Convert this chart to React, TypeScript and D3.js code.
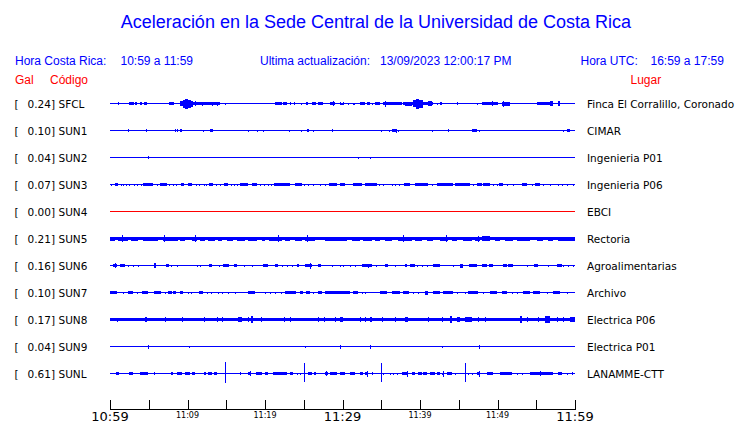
import React from "react";
import * as d3 from "d3";

// ---- data ----
const title = "Aceleración en la Sede Central de la Universidad de Costa Rica";
const codes = ["SFCL", "SUN1", "SUN2", "SUN3", "SUN4", "SUN5", "SUN6", "SUN7", "SUN8", "SUN9", "SUNL"];
const peakGal = [0.24, 0.10, 0.04, 0.07, 0.00, 0.21, 0.16, 0.10, 0.17, 0.04, 0.61];
const places = [
  "Finca El Corralillo, Coronado", "CIMAR", "Ingenieria P01", "Ingenieria P06", "EBCI",
  "Rectoria", "Agroalimentarias", "Archivo", "Electrica P06", "Electrica P01", "LANAMME-CTT",
];
// continuous noise floor amplitude per station (relative units)
const noiseFloor = [0.5, 0.5, 0.5, 0.5, 0.5, 1.2, 0.5, 0.5, 1.7, 0.5, 0.5];
const inactive = ["SUN4"];
// tick minutes (since 10:59) and labels
const tickMinutes = [0, 5, 10, 15, 20, 25, 30, 35, 40, 45, 50, 55, 60];
const labelMinutes = [0, 10, 20, 30, 40, 50, 60];
const labelTexts = ["10:59", "11:09", "11:19", "11:29", "11:39", "11:49", "11:59"];
const majorLabels = ["10:59", "11:29", "11:59"];

// events: [startMinute, endMinute, amplitudeUp, amplitudeDown?]
type Ev = [number, number, number, number?];
const evSFCL: Ev[] = [
  [0.98,0.98,1.5],[2.45,3.05,1.5],[3.22,3.44,1.2],[3.82,4.08,1.2],[4.43,4.73,1.5],[7.65,8.30,1.5],
  [9.03,9.4,2.5],[9.4,9.7,4],[9.7,10.1,5],[10.1,10.5,4],[10.5,10.75,3],
  [10.75,14.19,1.5],[10.96,10.96,2.5],[11.82,11.82,2],[13.11,13.11,2],[13.76,13.76,2],
  [14.83,14.83,1],[18.96,18.96,0.8],[19.39,19.39,0.8],[19.82,19.82,0.8],[20.25,20.25,0.8],
  [21.29,22.15,1.5],[22.36,22.79,1.5],[23.22,23.22,1.2],[23.78,23.78,1.2],[24.64,24.64,1],[25.29,25.59,1.5],
  [26.10,26.53,1.5],[26.88,27.52,1.3],[28.43,29.03,1.5],[28.81,28.81,2.5],[29.63,29.63,1.2],[30.06,30.06,1.2],
  [29.68,30.11,1],[30.76,30.76,1],[31.40,31.62,1],[32.26,32.91,1.3],[33.12,33.55,1.5],[33.77,33.98,1],[34.20,34.84,1.3],
  [35.27,37.64,1.5],[35.49,35.49,3],
  [37.85,41.72,1.7],[38.07,38.93,2],[39.14,39.5,3.5],[39.5,39.9,5],[39.9,40.43,4],[41.08,41.51,2.5],
  [42.15,42.15,1],[42.58,42.80,1.2],[44.73,44.95,1.5],[47.31,47.31,1],[47.96,50.11,1.5],[49.25,49.25,2.5],
  [50.54,51.62,2],[50.75,50.75,3],[55.06,57.21,1.5],[56.78,57.21,2.5],[57.85,58.07,2.5],
];
const evSUN1: Ev[] = [
  [2.36,2.36,1.2],[4.64,4.64,1.2],[8.38,8.38,1.2],[8.60,8.60,1.2],[9.07,9.24,1.3],[12.04,12.04,1],[12.94,13.24,1.5],
  [17.84,17.84,1],[18.92,18.92,1],[19.74,19.74,1],[23.14,23.14,0,1],[24.64,24.64,1],[25.37,25.67,1.2],[26.23,26.23,1],
  [28.60,28.60,1.2],[34.97,34.97,1],[36.05,36.05,1],[36.39,36.99,1.5],[36.9,36.9,2],[37.21,37.21,1],[41.55,41.55,1],
  [43.66,43.66,1.5],[46.67,47.31,1.5],[47.57,47.57,1],[58.50,58.50,1],[58.93,59.36,1.5],
];
const evSUN2: Ev[] = [[4.94,4.94,1.5],[32.05,32.05,0,1],[33.59,33.59,1]];
const evSUN3: Ev[] = [
  [0.12,0.12,1],[0.64,1.07,1.2],[1.37,1.37,1],[1.63,1.63,1],[2.02,2.02,1],[2.45,2.45,1],[3.13,3.13,1],[3.44,3.44,1],
  [3.95,3.95,1],[4.30,5.59,1.2],[6.10,6.10,1],[6.45,7.31,1.2],[7.65,7.65,1],[8.17,8.17,1],[8.51,8.51,1],[9.16,9.59,1.2],
  [10.10,10.62,1.2],[11.05,11.05,1],[11.52,11.52,1],[12.17,12.17,1],[12.38,12.38,1],[12.77,13.33,1.2],[13.67,13.67,1],
  [14.19,14.19,1],[14.75,15.26,1.2],[15.61,15.61,1],[16.04,16.04,1],[16.43,16.43,1],[16.77,17.84,1.2],[18.28,18.92,1.2],
  [19.39,19.39,1],[19.91,19.91,1],[20.34,20.34,1],[20.73,20.73,1],[21.20,23.22,1.2],[23.87,24.73,1.2],[25.07,25.07,1],
  [25.59,25.59,1],[26.23,26.23,1],[27.09,27.09,1],[27.74,27.74,1],[28.30,29.24,1.2],[29.67,30.32,1.2],
  [31.40,32.48,1.2],[32.91,34.41,1.2],[34.76,34.76,1],[35.27,35.27,1],[36.35,36.35,1],[36.78,36.78,1],[37.34,37.34,1],
  [37.98,38.71,1.2],[39.36,41.08,1.2],[41.51,41.51,1],[42.15,44.30,1.5],[44.52,46.45,1.2],[46.88,46.88,1],
  [47.40,47.96,1.2],[48.17,49.04,1.2],[49.46,49.46,1],[49.90,49.90,1],[50.24,50.76,1.2],[51.19,51.19,1],[52.05,52.05,1],
  [53.12,53.77,1.2],[54.41,54.41,1],[54.84,55.49,1.2],[55.92,55.92,1],[56.78,56.78,1],[57.85,57.85,1],[58.28,58.28,1],
  [58.93,58.93,1],[59.79,59.79,1],
];
const evSUN4: Ev[] = [];
const evSUN5: Ev[] = [
  [0,0.64,2],[1.07,2.36,2],[2.70,3.65,2],[4.30,6.23,2],[6.88,8.81,2],[9.03,9.67,2],[10.62,11.18,2],
  [11.61,12.25,2],[12.68,13.54,2],[13.97,14.40,2],[15.05,15.91,2],[16.34,17.41,2],[17.76,18.92,2],
  [19.56,19.99,2],[20.51,22.15,2],[22.58,23.22,2],[23.87,24.73,2],[25.16,26.45,2],[27.74,30.32,2],
  [1.59,1.59,3.5],[7.01,7.01,3.5],[10.96,10.96,3.5],[21.72,21.72,3.5],[25.46,25.46,3.5],
  [29.68,30.54,2],[31.19,32.26,2],[32.69,33.77,2],[34.20,34.84,2],[35.49,36.35,2],[37.21,38.93,2],
  [39.36,40.22,2],[40.86,41.72,2],[42.58,43.66,2],[44.09,44.73,2],[45.59,46.67,2],[47.10,47.74,2],
  [47.96,49.04,2.8],[49.68,50.32,2],[50.97,52.05,2],[52.48,54.20,2],[55.06,55.92,2],[56.56,57.21,2],
  [57.85,60,2],[37.85,37.85,3.5],[43.36,43.36,3.5],[47.53,47.53,3],
];
const evSUN6: Ev[] = [
  [0.43,0.86,1.7],[0.64,0.64,2.5],[1.29,1.93,1.3],[2.36,2.36,1],[3.01,3.01,1],[3.57,3.57,1],[4.30,4.51,0.8],
  [5.72,5.89,2.5],[7.22,7.65,1.3],[7.87,7.87,1],[8.60,8.60,1],[9.67,9.67,0.8],[11.18,11.18,1],[11.61,11.61,1],
  [12.81,13.11,1.3],[14.10,14.10,1],[14.62,15.39,1.3],[15.95,16.38,1.3],[17.33,17.33,1],[18.28,18.28,1],
  [19.78,20.43,1.3],[21.29,21.72,1.3],[22.15,22.15,1],[22.79,22.79,1],[23.44,23.44,1],[24.08,24.38,1.3],
  [25.16,26.02,1.3],[25.80,25.80,3],[26.88,27.22,1.3],[28.60,28.60,1],[29.67,29.67,1],[30.02,30.02,1],[30.97,30.97,1],
  [31.62,31.62,1],[32.48,33.77,1.3],[33.34,33.34,2],[34.32,34.32,1],[35.49,35.92,1.3],[36.78,36.78,1],[38.07,38.28,1.3],
  [38.71,39.36,1.3],[39.57,39.57,1],[40.22,40.22,1],[40.86,40.86,1],[41.72,42.58,1.3],[44.30,44.30,1],[45.16,45.59,2],
  [46.37,47.31,1.3],[47.96,48.60,1.3],[48.95,49.46,1.3],[50.76,51.19,1.3],[51.40,52.05,1.3],[53.77,53.77,1],
  [54.76,55.19,1.3],[56.56,56.56,1],[57.64,58.28,1.3],[58.50,58.50,1],[59.14,59.14,1],[59.79,59.79,1],
];
const evSUN7: Ev[] = [
  [0,0.86,1.3],[1.72,1.72,1],[2.36,3.01,1.3],[3.44,3.44,1],[4.17,4.94,1.3],[5.72,6.58,1.3],[7.09,7.09,1],[7.52,7.95,1.3],
  [8.17,8.51,1.3],[9.03,9.37,1.3],[10.10,10.10,1],[10.45,10.45,1],[11.52,11.95,1.3],[12.47,12.47,1],[13.03,13.03,1],
  [13.97,13.97,1],[14.40,14.40,1],[15.26,15.26,1],[16.12,16.12,1],[17.76,18.71,1.3],[19.99,19.99,1],[20.64,20.64,1],
  [21.29,21.29,1],[22.06,22.06,1],[22.58,23.95,1.3],[24.51,24.94,1.3],[25.29,25.80,1.3],[26.23,26.23,1],
  [26.88,27.31,1.3],[27.74,30.97,1.3],[31.40,32.05,1.3],[32.48,32.48,1],[32.91,32.91,1],[34.84,35.70,1.3],
  [36.35,37.42,1.3],[37.85,38.63,1.3],[39.14,39.14,1],[39.79,39.79,1],[40.65,41.08,2],[41.72,42.58,1.3],
  [43.01,44.30,1.3],[44.73,44.73,1],[45.81,45.81,1],[46.24,47.53,1.3],[48.17,48.17,1],[49.04,49.90,1.3],
  [50.54,51.19,1.3],[51.83,51.83,1],[52.48,52.48,1],[53.34,54.20,1.3],[54.63,55.49,1.3],[56.35,56.35,1],
  [57.21,58.07,1.3],[58.93,58.93,1],
];
const evSUN8: Ev[] = [
  [0.86,0.86,1.7,2.8],[4.51,4.73,2.8],[7.09,7.09,2.8],[9.24,9.24,2.8],[12.12,12.25,2.8],[13.76,13.76,2.8],
  [14.40,14.40,2.8],[16.55,17.07,2.8],[17.76,17.76,2.8],[18.15,18.49,3.2],[19.48,19.48,2.8],[22.49,22.49,2.8],
  [23.22,23.22,2.8],[26.88,26.88,2.8],[27.61,27.61,2.8],[29.03,29.03,2.8],[29.67,30.11,2.8],[32.26,32.26,2.8],
  [32.91,32.91,2.8],[33.55,33.77,2.8],[35.06,35.06,2.8],[36.78,36.78,2.8],[38.07,38.50,2.8],[41.08,41.08,2.8],
  [42.80,42.80,2.8],[43.87,44.09,3.2],[44.73,45.16,2.8],[45.81,46.67,2.8],[47.53,47.53,2.8],[48.39,48.39,2.8],
  [52.91,53.12,3.2],[53.77,53.77,2.8],[55.27,55.27,2.8],[56.13,56.78,3.2],[57.64,57.64,2.8],[58.41,58.41,2.8],
  [59.36,60,2.8],
];
const evSUN9: Ev[] = [
  [4.94,4.94,2],[10.23,10.23,0,1.2],[25.16,25.16,0,1],[29.67,29.67,2],[33.55,33.55,2],[42.80,42.80,0,1],
  [47.66,47.66,2],[55.49,55.49,1,0],[56.22,56.22,1,0],
];
const evSUNL: Ev[] = [
  [0.77,1.16,1.5],[2.45,3.01,1.3],[3.87,4.94,1.5],[5.67,5.67,1.2],[7.87,8.17,1.3],[8.60,9.24,1.3],[9.67,10.32,1.3],
  [10.62,10.96,1.3],[12.12,12.34,1.3],[12.68,13.11,1.3],[13.42,13.85,1.3],[14.88,14.88,12,9],[15.48,15.48,0.8],
  [16.77,16.77,1.2],[17.76,18.15,1.5],[18.0,18.0,2.5],[18.79,19.56,1.5],[19.99,20.43,1.3],[21.07,22.79,1.5],
  [23.22,23.65,1.3],[24.08,24.08,1],[24.51,24.51,1],[25.07,25.07,10.3,8.7],[25.59,26.02,1.3],[26.36,26.58,1.3],
  [27.74,28.17,1.5],[27.9,27.9,2.5],[28.38,29.24,1.3],[29.67,30.33,1.3],[30.97,31.62,1.3],[32.26,32.69,1.3],
  [32.91,33.34,1.5],[33.1,33.1,3],[33.77,33.98,1.3],[35.01,35.01,10.3,8.7],[35.27,35.27,1],[36.13,36.13,1],
  [36.56,36.56,1],[36.99,36.99,1],[37.64,38.28,1.5],[38.28,38.28,3],[38.93,39.36,1.3],[39.79,40.22,1.3],
  [40.43,40.86,1.3],[41.29,41.94,1.3],[42.15,42.58,1.3],[42.80,42.80,1],[43.01,43.01,3],[43.44,44.09,1.3],
  [44.52,44.52,1],[45.85,45.85,10.3,8.7],[46.24,46.24,1],[46.67,46.67,1],[47.31,47.74,1.3],[47.66,47.66,3],
  [48.60,49.46,1.3],[50.32,51.83,1.5],[52.48,52.48,1],[53.12,53.12,1],[54.20,57.21,1.5],[55.49,55.49,2.5],
  [57.85,58.28,1.3],[58.93,58.93,1],[59.57,59.79,1.3],
];
const events: Ev[][] = [evSFCL, evSUN1, evSUN2, evSUN3, evSUN4, evSUN5, evSUN6, evSUN7, evSUN8, evSUN9, evSUNL];

// ---- layout ----
const W = 740, H = 423;
const BLUE = "#0000ff", RED = "#ff0000";
const SANS = "'Liberation Sans', Arial, sans-serif";
const DJ = "'DejaVu Sans', sans-serif";

export default function App() {
  const x = d3.scaleLinear().domain([0, 60]).range([110, 575]);
  const y = d3.scalePoint<string>().domain(codes).range([103.5, 373.5]);
  const amp = d3.scaleLinear().domain([0, 10]).range([0, 10]);
  const axisY = 409.5;

  return (
    <svg width={W} height={H} style={{ position: "absolute", left: 0, top: 0, background: "#fff" }}>
      <text x={376} y={28} textAnchor="middle" fontFamily={SANS} fontSize={18} fill={BLUE}>{title}</text>
      <g fontFamily={SANS} fontSize={12} fill={BLUE}>
        <text x={15} y={65}>Hora Costa Rica:</text>
        <text x={120.5} y={65}>10:59 a 11:59</text>
        <text x={260} y={65}>Ultima actualización:</text>
        <text x={380} y={65}>13/09/2023 12:00:17 PM</text>
        <text x={580.5} y={65}>Hora UTC:</text>
        <text x={650.5} y={65}>16:59 a 17:59</text>
      </g>
      <g fontFamily={SANS} fontSize={12} fill={RED}>
        <text x={15} y={84}>Gal</text>
        <text x={50} y={84}>Código</text>
        <text x={630.5} y={84}>Lugar</text>
      </g>
      {codes.map((c, i) => {
        const cy = y(c) as number;
        const col = inactive.includes(c) ? RED : BLUE;
        const f = amp(noiseFloor[i]);
        return (
          <g key={c}>
            <g fontFamily={DJ} fontSize={10.5} fill="#000">
              <text x={14.5} y={cy + 4}>[</text>
              <text x={55} y={cy + 4} textAnchor="end">{peakGal[i].toFixed(2)}]</text>
              <text x={58.5} y={cy + 4}>{c}</text>
              <text x={587} y={cy + 4}>{places[i]}</text>
            </g>
            <g fill={col} shapeRendering="crispEdges">
              <rect x={x(0)} y={cy - f} width={x(60) - x(0)} height={Math.max(1, 2 * f)} />
              {events[i].map((e, k) => {
                const up = amp(e[2]);
                const dn = amp(e[3] === undefined ? e[2] : e[3]);
                const x0 = x(e[0]);
                const w = Math.max(1, x(e[1]) - x0);
                return <rect key={k} x={x0} y={cy - up} width={w} height={Math.max(1, up + dn)} />;
              })}
            </g>
          </g>
        );
      })}
      <g stroke="#000" strokeWidth={1} shapeRendering="crispEdges">
        <line x1={x(0)} x2={x(60)} y1={axisY} y2={axisY} />
        {tickMinutes.map((m) => (
          <line key={m} x1={Math.round(x(m)) + 0.5} x2={Math.round(x(m)) + 0.5} y1={400} y2={axisY} />
        ))}
      </g>
      <g fontFamily={DJ} fill="#000" textAnchor="middle">
        {labelMinutes.map((m, i) => {
          const major = majorLabels.includes(labelTexts[i]);
          return (
            <text key={m} x={x(m)} y={major ? 420.5 : 417.5} fontSize={major ? 13 : 8}>
              {labelTexts[i]}
            </text>
          );
        })}
      </g>
    </svg>
  );
}
